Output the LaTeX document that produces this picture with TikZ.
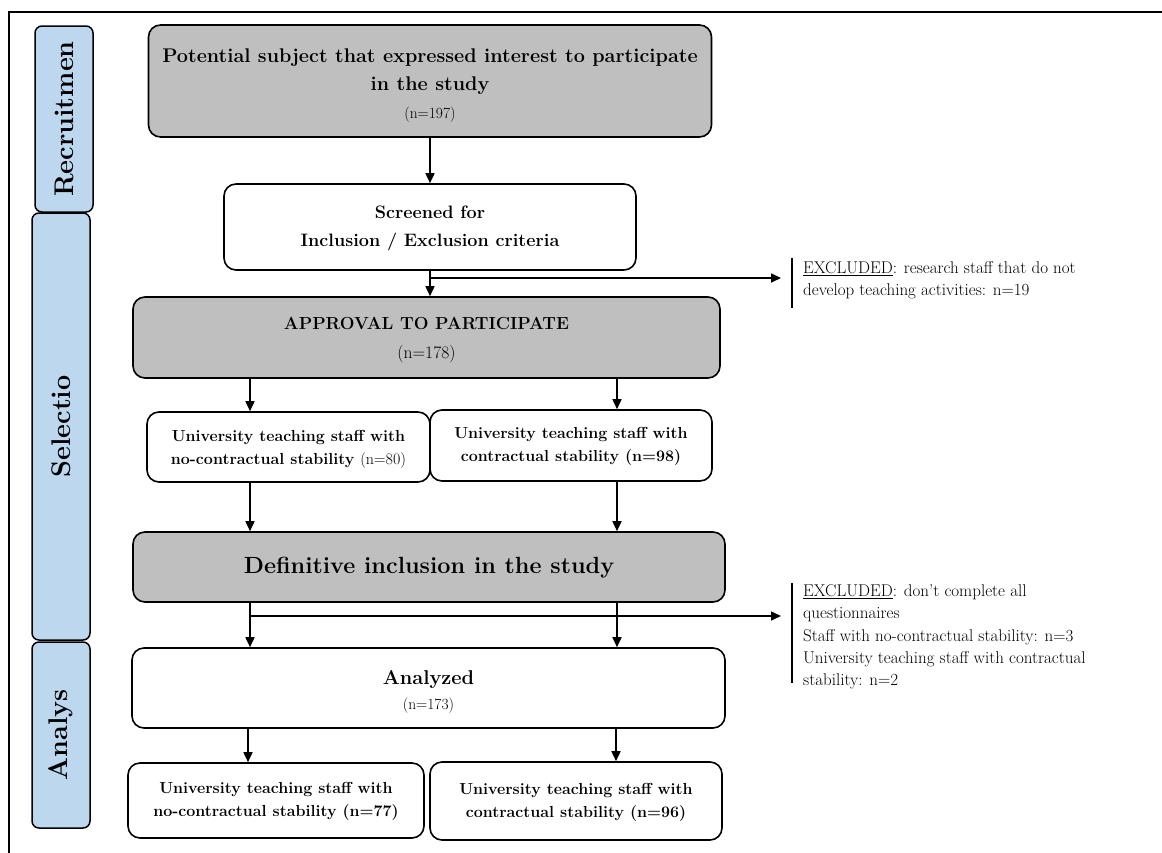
\documentclass[tikz,border=0pt]{standalone}
\usepackage{fontspec}
\usetikzlibrary{arrows.meta}
\definecolor{boxgray}{HTML}{BFBFBF}
\definecolor{tabblue}{HTML}{BDD7EE}
\begin{document}
\begin{tikzpicture}[x=1pt,y=-1pt,
  base/.style={draw, line width=1.6pt, inner sep=0pt, rounded corners=12pt},
  graybox/.style={base, fill=boxgray},
  whitebox/.style={base, fill=white},
  txt/.style={inner sep=0pt, align=center},
  tab/.style={draw, line width=1.5pt, fill=tabblue, rounded corners=7pt, inner sep=0pt},
  tablabel/.style={rotate=90, inner sep=0pt, font=\fontsize{27}{30}\selectfont\bfseries},
  arr/.style={line width=1.6pt, -{Triangle[length=10pt,width=9pt]}},
  bar/.style={line width=2.6pt},
  exc/.style={align=left, anchor=west, inner sep=0pt, font=\fontsize{17}{22.3}\selectfont}]
\useasboundingbox (0,0) rectangle (1162,852);
\draw[line width=1.5pt] (9,860) -- (9,12) -- (1170,12);

% side tabs
\node[tab, minimum width=58pt, minimum height=186pt] (tabR) at (64,119) {};
\node[tab, minimum width=58pt, minimum height=427pt] (tabS) at (61,426.5) {};
\node[tab, minimum width=58pt, minimum height=186pt] (tabA) at (61,735) {};
\node[tablabel] (labR) at (tabR.center) {Recruitmen};
\node[tablabel] (labS) at (tabS.center) {Selectio};
\node[tablabel] (labA) at (tabA.center) {Analys};

% boxes
\node[graybox, minimum width=563pt, minimum height=112pt] (b1) at (430,81) {};
\node[whitebox, minimum width=412pt, minimum height=86pt] (b2) at (430,227) {};
\node[graybox, minimum width=587pt, minimum height=81pt] (b3) at (426.5,337.5) {};
\node[whitebox, minimum width=283pt, minimum height=70pt] (b4a) at (288.5,447) {};
\node[whitebox, minimum width=282pt, minimum height=71pt] (b4b) at (571,445.5) {};
\node[graybox, minimum width=592pt, minimum height=70pt] (b5) at (429,567) {};
\node[whitebox, minimum width=593pt, minimum height=80pt] (b6) at (428.5,688) {};
\node[whitebox, minimum width=296pt, minimum height=75pt] (b7a) at (276,800.5) {};
\node[whitebox, minimum width=292pt, minimum height=78pt] (b7b) at (576,801) {};

% box texts
\node[txt, font=\fontsize{19.8}{28}\selectfont] (b1t) at ([yshift=-5pt]b1.center)
  {\bfseries Potential subject that expressed interest to participate\\ \bfseries in the study\\ {\fontsize{15.5}{16}\selectfont (n=197)}};
\node[txt, font=\fontsize{18}{28}\selectfont\bfseries] (b2t) at ([yshift=-1pt]b2.center)
  {Screened for\\Inclusion / Exclusion criteria};
\node[txt, font=\fontsize{17.5}{29}\selectfont] (b3t) at ([yshift=-3pt]b3.center)
  {\bfseries APPROVAL TO PARTICIPATE\\ (n=178)};
\node[txt, font=\fontsize{16}{23}\selectfont\bfseries] (b4at) at ([yshift=-2pt]b4a.center)
  {University teaching staff with\\no-contractual stability {\mdseries (n=80)}};
\node[txt, font=\fontsize{16}{23}\selectfont\bfseries] (b4bt) at ([yshift=-1pt]b4b.center)
  {University teaching staff with\\contractual stability (n=98)};
\node[txt, font=\fontsize{23.4}{26}\selectfont\bfseries] (b5t) at ([yshift=-1pt]b5.center)
  {Definitive inclusion in the study};
\node[txt, font=\fontsize{20}{25}\selectfont] (b6t) at ([yshift=-4pt]b6.center)
  {\bfseries Analyzed\\ {\fontsize{15.5}{16}\selectfont (n=173)}};
\node[txt, font=\fontsize{16}{23}\selectfont\bfseries] (b7at) at ([yshift=-1pt]b7a.center)
  {University teaching staff with\\no-contractual stability (n=77)};
\node[txt, font=\fontsize{16}{23}\selectfont\bfseries] (b7bt) at ([yshift=-1pt]b7b.center)
  {University teaching staff with\\contractual stability (n=96)};

% excluded notes
\node[exc] (ex1) at (803,280)
  {\underline{EXCLUDED}: research staff that do not\\develop teaching activities: n=19};
\node[exc] (ex2) at (803,637)
  {\underline{EXCLUDED}: don’t complete all\\questionnaires\\Staff with no-contractual stability: n=3\\University teaching staff with contractual\\stability: n=2};
\coordinate (bar1a) at (792,258);
\coordinate (bar1b) at (792,308);
\coordinate (bar2a) at (792,583);
\coordinate (bar2b) at (792,683);
\draw[bar] (bar1a) -- (bar1b);
\draw[bar] (bar2a) -- (bar2b);

% helper columns
\coordinate (cL) at (250,0);
\coordinate (cR) at (617,0);
\coordinate (cL2) at (248,0);
\coordinate (cR2) at (616,0);
\coordinate (s1) at (430,278);
\coordinate (t1) at (781,278);
\coordinate (s2) at (250,616);
\coordinate (t2) at (781,616);

% connectors
\draw[arr] (b1.south) -- (b2.north);
\draw[arr] (b2.south) -- (b3.north -| b2.south);
\draw[arr] (s1) -- (t1);
\draw[arr] (b3.south -| cL) -- (b4a.north -| cL);
\draw[arr] (b3.south -| cR) -- (b4b.north -| cR);
\draw[arr] (b4a.south -| cL) -- (b5.north -| cL);
\draw[arr] (b4b.south -| cR) -- (b5.north -| cR);
\draw[arr] (b5.south -| cL) -- (b6.north -| cL);
\draw[arr] (b5.south -| cR) -- (b6.north -| cR);
\draw[arr] (s2) -- (t2);
\draw[arr] (b6.south -| cL2) -- (b7a.north -| cL2);
\draw[arr] (b6.south -| cR2) -- (b7b.north -| cR2);
\end{tikzpicture}
\end{document}
